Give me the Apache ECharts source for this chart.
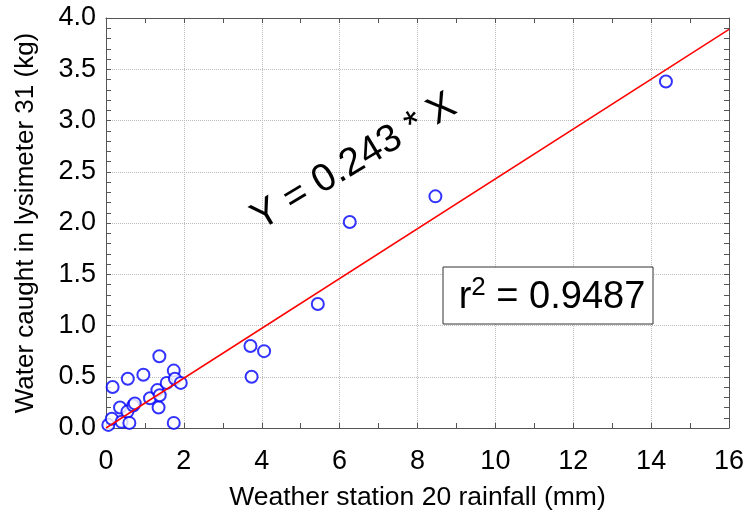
<!DOCTYPE html>
<html>
<head>
<meta charset="utf-8">
<script src="https://cdn.jsdelivr.net/npm/echarts@6/dist/echarts.min.js"></script>
<style>
  html, body { margin: 0; padding: 0; background: #fff; }
  #chart { width: 744px; height: 515px; }
</style>
</head>
<body>
<div id="chart"></div>
<script>
// rainfall at station 20 (mm) vs water caught in lysimeter 31 (kg)
const rainfall = [0.06, 0.15, 0.17, 0.36, 0.40, 0.55, 0.56, 0.60, 0.70, 0.74, 0.96, 1.13, 1.32, 1.35, 1.37,
                  1.38, 1.56, 1.74, 1.74, 1.77, 1.92, 3.71, 3.74, 4.06, 5.44, 6.26, 8.46, 14.38];
const water    = [0.03, 0.09, 0.40, 0.20, 0.06, 0.16, 0.48, 0.05, 0.22, 0.24, 0.52, 0.29, 0.37, 0.20, 0.70,
                  0.32, 0.44, 0.56, 0.05, 0.48, 0.44, 0.80, 0.50, 0.75, 1.21, 2.01, 2.26, 3.38];
const slope = 0.243;
const r2Text = '0.9487';
const xRange = [0, 16];
const yRange = [0, 4];

const FONT = '"Liberation Sans", Arial, sans-serif';
const frame = '#555';

const chart = echarts.init(document.getElementById('chart'));

function axisBase(extra) {
  return Object.assign({
    type: 'value',
    axisLine: { show: true, onZero: false, lineStyle: { color: frame, width: 1 } },
    axisTick: { show: true, inside: true, length: 5, lineStyle: { color: frame } },
    minorTick: { show: true, length: 5, lineStyle: { color: frame } },
    splitLine: { show: false },
    axisLabel: { show: false }
  }, extra);
}

const option = {
  animation: false,
  grid: { left: 106, right: 15, top: 18, bottom: 87, containLabel: false, outerBoundsMode: 'none' },
  xAxis: [
    axisBase({
      min: xRange[0], max: xRange[1], interval: 2, position: 'bottom',
      minorTick: { show: true, splitNumber: 2, length: 5, lineStyle: { color: frame } },
      splitLine: { show: true, lineStyle: { type: 'dotted', color: '#bbb' } },
      axisLabel: { show: true, fontSize: 27, color: '#000', margin: 20, fontFamily: FONT },
      name: 'Weather station 20 rainfall (mm)',
      nameLocation: 'middle', nameGap: 56, nameMoveOverlap: false,
      nameTextStyle: { fontSize: 26.5, color: '#000', fontFamily: FONT }
    }),
    axisBase({
      min: xRange[0], max: xRange[1], interval: 2, position: 'top',
      minorTick: { show: true, splitNumber: 2, length: 5, lineStyle: { color: frame } }
    })
  ],
  yAxis: [
    axisBase({
      min: yRange[0], max: yRange[1], interval: 0.5, position: 'left',
      minorTick: { show: true, splitNumber: 5, length: 5, lineStyle: { color: frame } },
      splitLine: { show: true, lineStyle: { type: 'dotted', color: '#bbb' } },
      axisLabel: {
        show: true, fontSize: 27, color: '#000', margin: 10, fontFamily: FONT,
        formatter: v => v.toFixed(1)
      },
      name: 'Water caught in lysimeter 31 (kg)',
      nameLocation: 'middle', nameGap: 67, nameMoveOverlap: false,
      nameTextStyle: { fontSize: 26, color: '#000', fontFamily: FONT }
    }),
    axisBase({
      min: yRange[0], max: yRange[1], interval: 0.5, position: 'right',
      minorTick: { show: true, splitNumber: 5, length: 5, lineStyle: { color: frame } }
    })
  ],
  series: [
    {
      type: 'scatter',
      symbol: 'emptyCircle',
      symbolSize: 12,
      itemStyle: { color: '#0000ff', borderColor: '#0000ff', borderWidth: 2 },
      data: rainfall.map((x, i) => [x, water[i]]),
      z: 3
    },
    {
      type: 'line',
      showSymbol: false,
      silent: true,
      lineStyle: { color: '#ff0000', width: 1.5 },
      data: [[xRange[0], slope * xRange[0]], [xRange[1], slope * xRange[1]]],
      z: 4
    }
  ],
  graphic: [
    {
      type: 'text',
      x: 354, y: 162,
      rotation: 0.54,
      style: {
        text: 'Y = ' + slope + ' * X',
        fontSize: 39, fontFamily: FONT, fill: '#000',
        align: 'center', verticalAlign: 'middle'
      },
      z: 10
    },
    {
      type: 'rect',
      shape: { x: 443, y: 267, width: 210, height: 57 },
      style: { fill: '#fff', stroke: '#333', lineWidth: 1 },
      z: 10
    },
    {
      type: 'text',
      x: 552, y: 296,
      style: {
        text: '{r|r}{s|2}{r| = ' + r2Text + '}',
        align: 'center', verticalAlign: 'middle',
        rich: {
          r: { fontSize: 38, fontFamily: FONT, fill: '#000', verticalAlign: 'bottom' },
          s: { fontSize: 26, fontFamily: FONT, fill: '#000', verticalAlign: 'bottom', padding: [0, 0, 16, 0] }
        }
      },
      z: 11
    }
  ]
};

chart.setOption(option);
</script>
</body>
</html>
